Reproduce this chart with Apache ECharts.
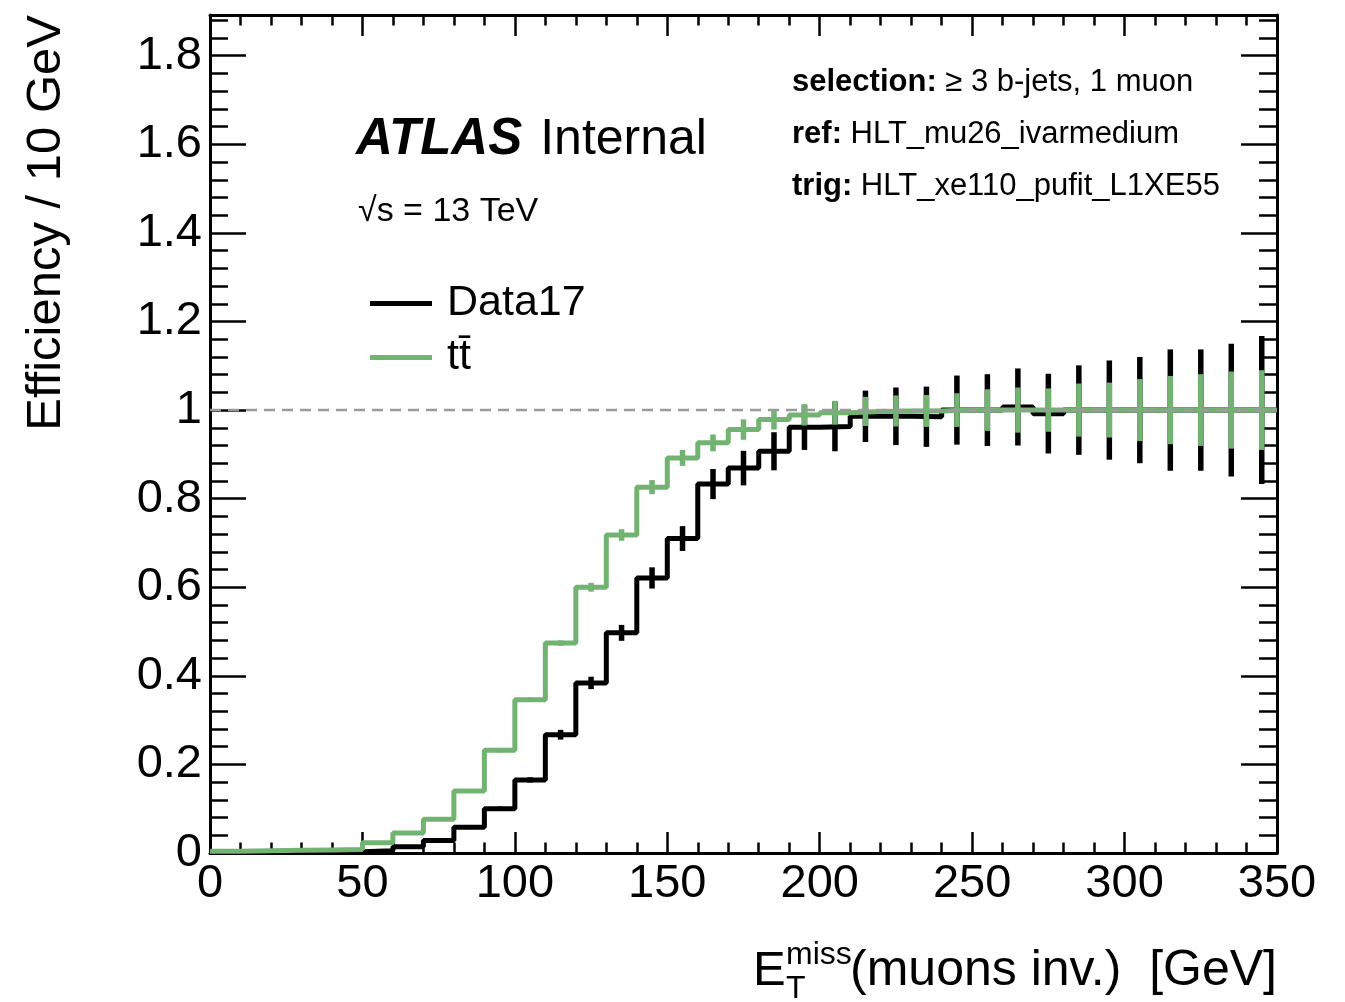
<!DOCTYPE html>
<html>
<head>
<meta charset="utf-8">
<script src="https://cdn.jsdelivr.net/npm/echarts@6/dist/echarts.min.js"></script>
<style>
html,body{margin:0;padding:0;background:#fff;}
#chart{width:1345px;height:1002px;}
</style>
</head>
<body>
<div id="chart"></div>
<script>
// ---- data ----
const binLow = [0,10,20,30,40,50,60,70,80,90,100,110,120,130,140,150,160,170,180,190,200,210,220,230,240,250,260,270,280,290,300,310,320,330,340];
const binWidth = 10;
const data17 = [0.001,0.001,0.001,0.002,0.003,0.005,0.014,0.028,0.058,0.100,0.165,0.267,0.384,0.497,0.621,0.710,0.833,0.869,0.907,0.961,0.963,0.986,0.986,0.985,1.000,1.000,1.007,0.992,1.000,1.000,1.000,1.000,1.000,1.000,1.000];
const data17Err = [0.001,0.001,0.001,0.001,0.001,0.002,0.003,0.003,0.004,0.005,0.006,0.011,0.014,0.018,0.024,0.028,0.034,0.039,0.043,0.051,0.056,0.058,0.065,0.068,0.078,0.081,0.087,0.090,0.101,0.112,0.120,0.137,0.137,0.150,0.167];
const ttbar = [0.004,0.005,0.006,0.007,0.008,0.023,0.045,0.076,0.140,0.232,0.346,0.474,0.600,0.718,0.826,0.892,0.926,0.956,0.979,0.989,0.994,0.997,0.998,0.998,1.000,1.000,1.000,1.000,1.000,1.000,1.000,1.000,1.000,1.000,1.000];
const ttbarErr = [0.001,0.001,0.001,0.001,0.001,0.002,0.002,0.003,0.004,0.005,0.005,0.006,0.010,0.013,0.016,0.018,0.019,0.023,0.023,0.024,0.027,0.033,0.035,0.036,0.038,0.047,0.051,0.049,0.060,0.062,0.070,0.077,0.081,0.087,0.090];
const xTicks = [0,50,100,150,200,250,300,350];
const yTickLabels = ['0','0.2','0.4','0.6','0.8','1','1.2','1.4','1.6','1.8'];
const seriesNames = ['Data17','tt\u0304'];
const refLine = 1;

// ---- helpers ----
const FONT = '"Liberation Sans", Arial, Helvetica, sans-serif';
const BLACK = '#000000';
const GREEN = '#72b372';
function stepData(vals){
  const d = binLow.map((e,i)=>[e, vals[i]]);
  d.push([binLow[binLow.length-1]+binWidth, vals[vals.length-1]]);
  return d;
}
function errData(vals, errs){
  return binLow.map((e,i)=>[e+binWidth/2, vals[i], errs[i]]);
}
function errRender(color){
  return function(params, api){
    const x = api.value(0), y = api.value(1), e = api.value(2);
    const p1 = api.coord([x, y - e]), p2 = api.coord([x, y + e]);
    return {type:'line', shape:{x1:p1[0], y1:p1[1], x2:p2[0], y2:p2[1]},
            style:{stroke:color, lineWidth:5.5}};
  };
}
const YMAX = 1.892;
const tickStyle = {color:BLACK, width:2.5};
function xAx(pos, labels){
  return {type:'value', position:pos, min:xTicks[0], max:xTicks[xTicks.length-1], interval:xTicks[1]-xTicks[0],
    axisLine:{show:true, onZero:false, lineStyle:{color:BLACK, width:3}},
    axisTick:{show:true, inside:true, length:21, lineStyle:tickStyle},
    minorTick:{show:true, splitNumber:5, length:10.5, lineStyle:tickStyle},
    splitLine:{show:false}, minorSplitLine:{show:false},
    axisLabel:{show:labels, color:BLACK, fontSize:47, fontFamily:FONT, margin:8}
  };
}
function yAx(pos, interval, len, labels, line){
  return {type:'value', position:pos, min:0, max:YMAX, interval:interval,
    axisLine:{show:line, onZero:false, lineStyle:{color:BLACK, width:3}},
    axisTick:{show:true, inside:true, length:len, lineStyle:tickStyle},
    splitLine:{show:false},
    axisLabel:{show:labels, color:BLACK, fontSize:47, fontFamily:FONT, margin:8,
      formatter:function(v){
        const k = Math.round(v/0.2);
        if (Math.abs(v - k*0.2) < 1e-6 && k < yTickLabels.length) return yTickLabels[k];
        return '';
      }}
  };
}

const chart = echarts.init(document.getElementById('chart'), null, {renderer:'canvas'});
chart.setOption({
  backgroundColor:'#ffffff',
  animation:false,
  grid:{left:210, top:15, width:1067, height:838, containLabel:false},
  xAxis:[xAx('bottom', true), xAx('top', false)],
  yAxis:[yAx('left',0.2,36,true,true), yAx('left',0.04,18,false,false),
         yAx('right',0.2,36,false,true), yAx('right',0.04,18,false,false)],
  legend:{
    data:seriesNames, orient:'vertical', left:370, top:282, padding:0,
    itemWidth:62, itemHeight:5, itemGap:11, icon:'rect',
    textStyle:{color:BLACK, fontSize:43, fontFamily:FONT, padding:[0,0,0,10]}
  },
  series:[
    {name:seriesNames[0], type:'line', step:'end', data:stepData(data17), showSymbol:false,
     color:BLACK, lineStyle:{color:BLACK, width:5}, z:3},
    {name:'data17err', type:'custom', renderItem:errRender(BLACK), data:errData(data17, data17Err),
     encode:{x:0, y:1}, z:4, clip:true},
    {name:seriesNames[1], type:'line', step:'end', data:stepData(ttbar), showSymbol:false,
     color:GREEN, lineStyle:{color:GREEN, width:5}, z:5},
    {name:'ttbarerr', type:'custom', renderItem:errRender(GREEN), data:errData(ttbar, ttbarErr),
     encode:{x:0, y:1}, z:6, clip:true},
    {name:'ref', type:'line', data:[[xTicks[0], refLine],[xTicks[xTicks.length-1], refLine]], showSymbol:false,
     lineStyle:{color:'#9a9a9a', width:2.5, type:[11,7]}, z:7, silent:true}
  ],
  graphic:[
    {type:'text', x:46, y:15, rotation:Math.PI/2,
     style:{text:'Efficiency / 10 GeV', font:'49px '+FONT, fill:BLACK, align:'right', verticalAlign:'middle'}},
    {type:'text', x:753, y:971,
     style:{text:'E', font:'49px '+FONT, fill:BLACK, align:'left', verticalAlign:'middle'}},
    {type:'text', x:786, y:955,
     style:{text:'miss', font:'32px '+FONT, fill:BLACK, align:'left', verticalAlign:'middle'}},
    {type:'text', x:786, y:989,
     style:{text:'T', font:'32px '+FONT, fill:BLACK, align:'left', verticalAlign:'middle'}},
    {type:'text', x:1277, y:971,
     style:{text:'(muons inv.)  [GeV]', font:'50px '+FONT, fill:BLACK, align:'right', verticalAlign:'middle'}},
    {type:'text', x:356, y:140,
     style:{text:'{a|ATLAS}{n|Internal}', align:'left', verticalAlign:'middle',
       rich:{a:{font:'italic bold 51px '+FONT, fill:BLACK},
             n:{font:'50px '+FONT, fill:BLACK, padding:[0,0,0,18]}}}},
    {type:'text', x:358, y:212,
     style:{text:'\u221As = 13 TeV', font:'34px '+FONT, fill:BLACK, align:'left', verticalAlign:'middle'}},
    {type:'text', x:792, y:82,
     style:{text:'{b|selection:} \u2265 3 b-jets, 1 muon', align:'left', verticalAlign:'middle',
       rich:{b:{font:'bold 31px '+FONT, fill:BLACK}}, font:'31px '+FONT, fill:BLACK}},
    {type:'text', x:792, y:134,
     style:{text:'{b|ref:} HLT_mu26_ivarmedium', align:'left', verticalAlign:'middle',
       rich:{b:{font:'bold 31px '+FONT, fill:BLACK}}, font:'31px '+FONT, fill:BLACK}},
    {type:'text', x:792, y:186,
     style:{text:'{b|trig:} HLT_xe110_pufit_L1XE55', align:'left', verticalAlign:'middle',
       rich:{b:{font:'bold 31px '+FONT, fill:BLACK}}, font:'31px '+FONT, fill:BLACK}}
  ]
});
</script>
</body>
</html>
